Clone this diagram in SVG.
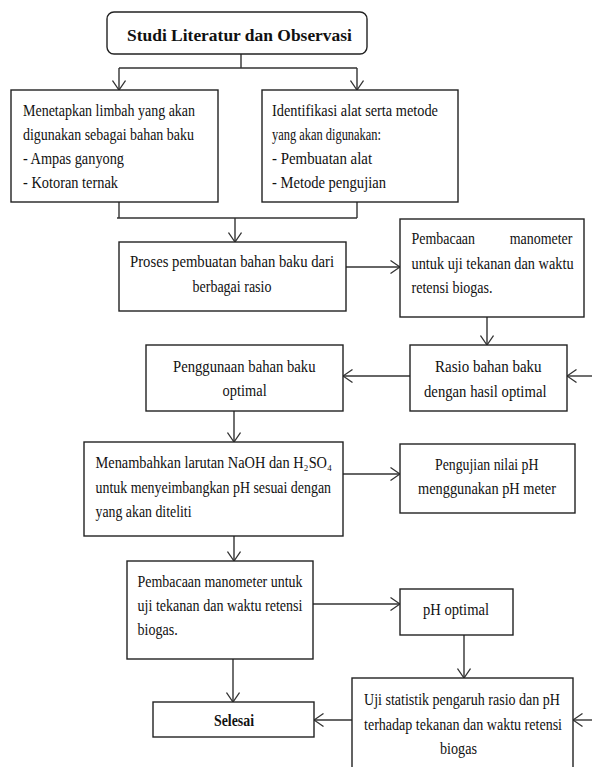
<svg xmlns="http://www.w3.org/2000/svg" width="592" height="767" viewBox="0 0 592 767">
<style>
.box{fill:#fff;stroke:#222;stroke-width:1.4}
.ln{fill:none;stroke:#333;stroke-width:1.4}
text{font-family:"Liberation Serif","Times New Roman",serif;font-size:17px;fill:#111}
.b{font-weight:bold}
</style>
<defs>
<marker id="ah" markerUnits="userSpaceOnUse" viewBox="0 0 11 14" refX="10" refY="7" markerWidth="11" markerHeight="14" orient="auto">
<path d="M0.5,0.5 L10,7 L0.5,13.5" fill="none" stroke="#333" stroke-width="1.3"/>
</marker>
</defs>
<rect width="592" height="767" fill="#fff"/>
<g id="connectors">
<path class="ln" d="M241,54 V68 M119,68 H357"/>
<path class="ln" d="M119,68 V90" marker-end="url(#ah)"/>
<path class="ln" d="M357,68 V90" marker-end="url(#ah)"/>
<path class="ln" d="M119,202 V218 M357,202 V218 M117,218 H357"/>
<path class="ln" d="M235,218 V242" marker-end="url(#ah)"/>
<path class="ln" d="M346,267 H400" marker-end="url(#ah)"/>
<path class="ln" d="M487,317 V345" marker-end="url(#ah)"/>
<path class="ln" d="M592,376 H567" marker-end="url(#ah)"/>
<path class="ln" d="M410,376 H343" marker-end="url(#ah)"/>
<path class="ln" d="M234,411 V442" marker-end="url(#ah)"/>
<path class="ln" d="M343,474 H400" marker-end="url(#ah)"/>
<path class="ln" d="M234,536 V561" marker-end="url(#ah)"/>
<path class="ln" d="M313,604 H400" marker-end="url(#ah)"/>
<path class="ln" d="M464,635 V678" marker-end="url(#ah)"/>
<path class="ln" d="M592,720 H573" marker-end="url(#ah)"/>
<path class="ln" d="M352,720 H314" marker-end="url(#ah)"/>
<path class="ln" d="M233,659 V702" marker-end="url(#ah)"/>
</g>
<g id="n-studi">
<rect class="box" x="107" y="12" width="260" height="42" rx="7"/>
<text class="b" transform="translate(127,41) scale(0.83,1)" font-size="21" textLength="271" lengthAdjust="spacingAndGlyphs">Studi Literatur dan Observasi</text>
</g>
<g id="n-limbah">
<rect class="box" x="11" y="90" width="207" height="112"/>
<text transform="translate(23,116) scale(0.82,1)" textLength="209.8" lengthAdjust="spacingAndGlyphs">Menetapkan limbah yang akan</text>
<text transform="translate(23,140) scale(0.82,1)" textLength="208.5" lengthAdjust="spacingAndGlyphs">digunakan sebagai bahan baku</text>
<text transform="translate(23,164) scale(0.82,1)" textLength="123.2" lengthAdjust="spacingAndGlyphs">-  Ampas ganyong</text>
<text transform="translate(23,188) scale(0.82,1)" textLength="115.9" lengthAdjust="spacingAndGlyphs">-  Kotoran ternak</text>
</g>
<g id="n-identifikasi">
<rect class="box" x="262" y="90" width="196" height="112"/>
<text transform="translate(272,116) scale(0.82,1)" textLength="202.4" lengthAdjust="spacingAndGlyphs">Identifikasi alat serta metode</text>
<text transform="translate(272,140) scale(0.82,1)" textLength="132.9" lengthAdjust="spacingAndGlyphs">yang akan digunakan:</text>
<text transform="translate(272,164) scale(0.82,1)" textLength="122" lengthAdjust="spacingAndGlyphs">-  Pembuatan alat</text>
<text transform="translate(272,188) scale(0.82,1)" textLength="139" lengthAdjust="spacingAndGlyphs">-  Metode pengujian</text>
</g>
<g id="n-proses">
<rect class="box" x="119" y="242" width="227" height="69"/>
<text transform="translate(130,267) scale(0.82,1)" textLength="248.8" lengthAdjust="spacingAndGlyphs">Proses pembuatan bahan baku dari</text>
<text transform="translate(192.5,292) scale(0.82,1)" textLength="96.3" lengthAdjust="spacingAndGlyphs">berbagai rasio</text>
</g>
<g id="n-pembacaan1">
<rect class="box" x="400" y="219" width="184" height="98"/>
<text transform="translate(411.5,244) scale(0.82,1)" word-spacing="38" textLength="196.3" lengthAdjust="spacingAndGlyphs">Pembacaan manometer</text>
<text transform="translate(411.5,268.5) scale(0.82,1)" textLength="197.6" lengthAdjust="spacingAndGlyphs">untuk uji tekanan dan waktu</text>
<text transform="translate(411.5,293) scale(0.82,1)" textLength="98.8" lengthAdjust="spacingAndGlyphs">retensi biogas.</text>
</g>
<g id="n-rasio">
<rect class="box" x="410" y="345" width="157" height="66"/>
<text transform="translate(435,372) scale(0.82,1)" textLength="130" lengthAdjust="spacingAndGlyphs">Rasio bahan baku</text>
<text transform="translate(424,397) scale(0.82,1)" textLength="149.4" lengthAdjust="spacingAndGlyphs">dengan hasil optimal</text>
</g>
<g id="n-penggunaan">
<rect class="box" x="146" y="345" width="197" height="66"/>
<text transform="translate(173,372) scale(0.82,1)" textLength="173.8" lengthAdjust="spacingAndGlyphs">Penggunaan bahan baku</text>
<text transform="translate(222.6,396) scale(0.82,1)" textLength="53.7" lengthAdjust="spacingAndGlyphs">optimal</text>
</g>
<g id="n-menambahkan">
<rect class="box" x="84" y="442" width="259" height="94"/>
<text transform="translate(95.5,468) scale(0.82,1)" textLength="288.4" lengthAdjust="spacingAndGlyphs">Menambahkan larutan NaOH  dan H₂SO₄</text>
<text transform="translate(95.5,493) scale(0.82,1)" textLength="287.2" lengthAdjust="spacingAndGlyphs">untuk menyeimbangkan pH sesuai dengan</text>
<text transform="translate(95.5,517) scale(0.82,1)" textLength="117.1" lengthAdjust="spacingAndGlyphs">yang akan diteliti</text>
</g>
<g id="n-pengujian">
<rect class="box" x="400" y="444" width="175" height="69"/>
<text transform="translate(435,470) scale(0.82,1)" textLength="126.2" lengthAdjust="spacingAndGlyphs">Pengujian nilai pH</text>
<text transform="translate(418,494) scale(0.82,1)" textLength="168.3" lengthAdjust="spacingAndGlyphs">menggunakan pH meter</text>
</g>
<g id="n-pembacaan2">
<rect class="box" x="127" y="561" width="186" height="98"/>
<text transform="translate(137.5,587) scale(0.82,1)" textLength="201.2" lengthAdjust="spacingAndGlyphs">Pembacaan manometer untuk</text>
<text transform="translate(137.5,611) scale(0.82,1)" textLength="201.2" lengthAdjust="spacingAndGlyphs">uji tekanan dan waktu retensi</text>
<text transform="translate(137.5,635) scale(0.82,1)" textLength="49" lengthAdjust="spacingAndGlyphs">biogas.</text>
</g>
<g id="n-phoptimal">
<rect class="box" x="400" y="589" width="113" height="46"/>
<text transform="translate(423,615) scale(0.82,1)" textLength="80.5" lengthAdjust="spacingAndGlyphs">pH optimal</text>
</g>
<g id="n-uji">
<rect class="box" x="352" y="678" width="221" height="100"/>
<text transform="translate(364,705) scale(0.82,1)" textLength="239" lengthAdjust="spacingAndGlyphs">Uji statistik pengaruh rasio dan pH</text>
<text transform="translate(364,730) scale(0.82,1)" textLength="241.5" lengthAdjust="spacingAndGlyphs">terhadap tekanan dan waktu retensi</text>
<text transform="translate(440,754) scale(0.82,1)" textLength="45.1" lengthAdjust="spacingAndGlyphs">biogas</text>
</g>
<g id="n-selesai">
<rect class="box" x="153" y="702" width="161" height="35"/>
<text class="b" transform="translate(214,726) scale(0.73,1)" font-size="19" textLength="54.8" lengthAdjust="spacingAndGlyphs">Selesai</text>
</g>
</svg>
